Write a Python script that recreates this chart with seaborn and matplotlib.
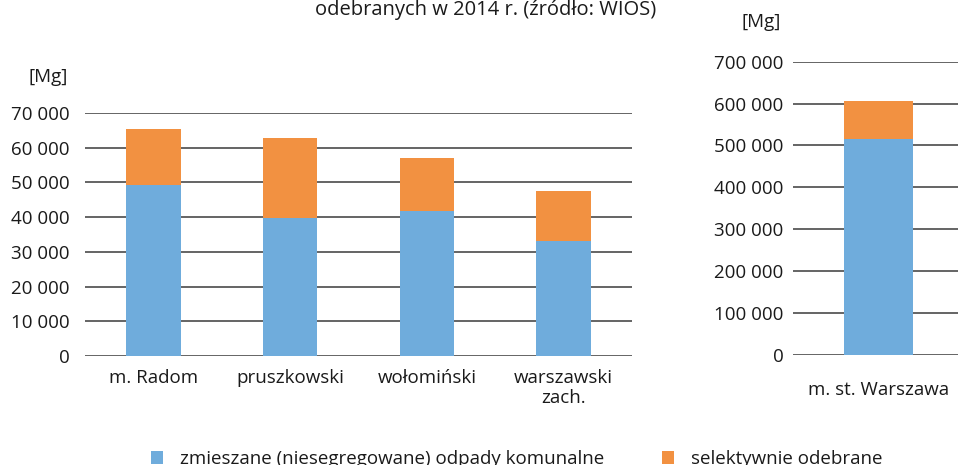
import matplotlib
matplotlib.use("Agg")
import matplotlib.pyplot as plt
import matplotlib.ticker as mticker
from matplotlib.patches import Patch
import pandas as pd
import seaborn as sns

# --- data ---
powiaty = ["m. Radom", "pruszkowski", "wołomiński", "warszawski\nzach."]
mieszane_pow = [49300, 39800, 41700, 33100]
selektywne_pow = [16000, 22900, 15300, 14300]

warszawa = ["m. st. Warszawa"]
mieszane_waw = [515000]
selektywne_waw = [91000]

title_text = "odebranych w 2014 r. (źródło: WIOS)"
legend_labels = ["zmieszane (niesegregowane) odpady komunalne", "selektywnie odebrane"]

BLUE = "#6FACDC"
ORANGE = "#F29141"
GRID = "#3a3a3a"
TXT = "#1a1a1a"
FS = 13.5

sns.set_theme(style="white")
plt.rcParams["font.family"] = ["Open Sans", "DejaVu Sans"]

W, H = 958, 465
fig = plt.figure(figsize=(W / 100, H / 100), dpi=100)


def px_axes(x0, x1, y_top, y_bot):
    return fig.add_axes([x0 / W, 1 - y_bot / H, (x1 - x0) / W, (y_bot - y_top) / H])


def thousands(v, _pos):
    return f"{int(v):,}".replace(",", " ")


def stacked(ax, cats, low, high, ymax, step, xpad, ypad):
    df = pd.DataFrame({"cat": cats, "low": low,
                       "total": [a + b for a, b in zip(low, high)]})
    sns.barplot(data=df, x="cat", y="total", color=ORANGE, width=0.4,
                saturation=1, linewidth=0, ax=ax, zorder=2)
    sns.barplot(data=df, x="cat", y="low", color=BLUE, width=0.4,
                saturation=1, linewidth=0, ax=ax, zorder=3)
    ax.set_ylim(0, ymax)
    ax.set_xlim(-0.5, len(cats) - 0.5)
    ax.yaxis.set_major_locator(mticker.MultipleLocator(step))
    ax.yaxis.set_major_formatter(mticker.FuncFormatter(thousands))
    ax.set_axisbelow(True)
    ax.grid(axis="y", color=GRID, lw=1.1, zorder=0)
    ax.grid(axis="x", visible=False)
    for s in ax.spines.values():
        s.set_visible(False)
    ax.set_xlabel("")
    ax.set_ylabel("")
    ax.tick_params(axis="y", length=0, pad=ypad, labelsize=FS, colors=TXT)
    ax.tick_params(axis="x", length=0, pad=xpad, labelsize=FS, colors=TXT)
    ax.patch.set_alpha(0)


# left panel: powiaty
ax1 = px_axes(85, 632, 113, 356)
stacked(ax1, powiaty, mieszane_pow, selektywne_pow, 70000, 10000, 9, 11)
for lab in ax1.get_xticklabels():
    lab.set_linespacing(1.2)

# right panel: Warszawa
ax2 = px_axes(793, 964, 61.7, 355)
stacked(ax2, warszawa, mieszane_waw, selektywne_waw, 700000, 100000, 19, 7)

# unit labels and title fragment
fig.text(48 / W, 1 - 77 / H, "[Mg]", ha="center", va="center", fontsize=FS, color=TXT)
fig.text(761 / W, 1 - 22 / H, "[Mg]", ha="center", va="center", fontsize=FS, color=TXT)
fig.text(486 / W, 1 - 10 / H, title_text, ha="center", va="center", fontsize=14.5, color=TXT)

# legend at the bottom, one entry per box so each sits where the reference has it
for color, label, x0 in [(BLUE, legend_labels[0], 145), (ORANGE, legend_labels[1], 656)]:
    fig.legend([Patch(facecolor=color, edgecolor="none")], [label],
               loc="center left", bbox_to_anchor=(x0 / W, 1 - 459 / H),
               frameon=False, fontsize=FS, handlelength=0.65, handleheight=0.65,
               handletextpad=0.9, borderaxespad=0, borderpad=0.3, labelcolor=TXT)

fig.savefig("out.png", dpi=100)
